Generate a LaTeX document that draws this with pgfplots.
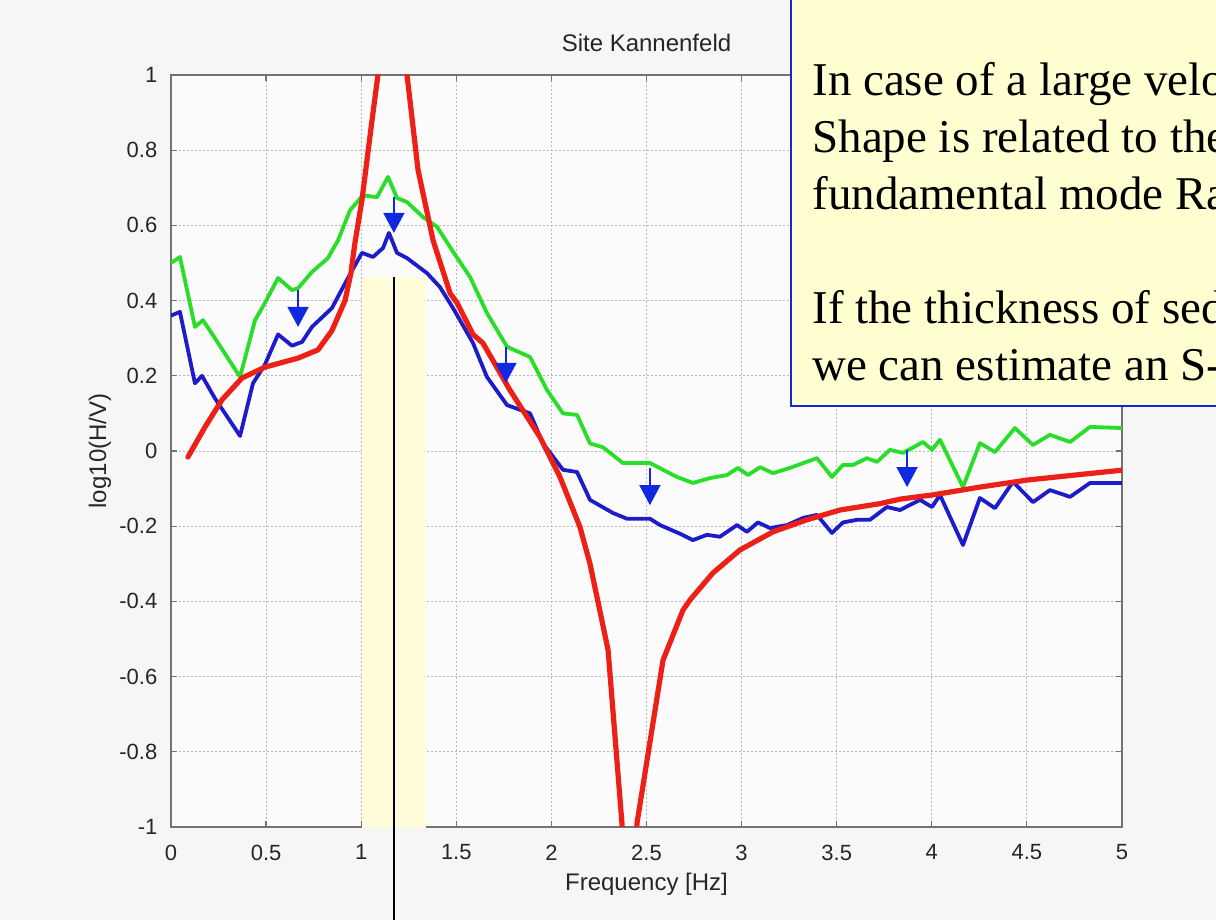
\documentclass[border=0pt]{standalone}
\usepackage{fontspec}
\setmainfont{Liberation Sans}
\newfontfamily\boxserif{Liberation Serif}
\usepackage{pgfplots}
\pgfplotsset{compat=1.18}
\usetikzlibrary{arrows.meta}

\definecolor{cred}{RGB}{236,32,22}
\definecolor{cgreen}{RGB}{40,222,40}
\definecolor{cblue}{RGB}{28,28,200}
\definecolor{arrowblue}{RGB}{15,40,225}
\definecolor{bandyellow}{RGB}{255,253,218}
\definecolor{boxyellow}{RGB}{255,255,210}
\definecolor{boxblue}{RGB}{20,40,215}
\definecolor{bggray}{RGB}{246,246,246}
\definecolor{plotbg}{RGB}{251,251,251}

\begin{document}
\begin{tikzpicture}
\useasboundingbox (-85.5pt,-46.5pt) rectangle (522.5pt,413.5pt);
\fill[bggray] (-85.5pt,-46.5pt) rectangle (522.5pt,413.5pt);
\clip (-85.5pt,-46.5pt) rectangle (522.5pt,413.5pt);
\begin{axis}[
  scale only axis,
  width=475.5pt, height=376pt,
  xmin=0, xmax=5, ymin=-1, ymax=1,
  xtick={0,0.5,1,1.5,2,2.5,3,3.5,4,4.5,5},
  ytick={-1,-0.8,-0.6,-0.4,-0.2,0,0.2,0.4,0.6,0.8,1},
  yticklabels={-1,-0.8,-0.6,-0.4,-0.2,0,0.2,0.4,0.6,0.8,1},
  xticklabels={0,0.5,1,1.5,2,2.5,3,3.5,4,4.5,5},
  /pgf/number format/assume math mode=true,
  tick align=inside,
  major tick length=3pt,
  axis background/.style={fill=plotbg},
  axis line style={draw=black!55, line width=0.6pt},
  every tick/.style={draw=black!55, line width=0.6pt},
  grid=major,
  major grid style={draw=black!28, dash pattern=on 0.8pt off 1.2pt, line width=0.4pt},
  ticklabel style={font=\fontsize{11}{13}\selectfont, text=black!85},
  xticklabel style={yshift=-5.3pt},
  yticklabel style={xshift=-3.3pt},
  title={Site Kannenfeld},
  title style={at={(axis description cs:0.5,1)}, anchor=center, yshift=10pt, font=\fontsize{12}{14}\selectfont, text=black!85},
  xlabel={Frequency [Hz]},
  xlabel style={at={(axis description cs:0.5,0)}, anchor=center, yshift=-28.5pt, font=\fontsize{12}{14}\selectfont, text=black!85},
  ylabel={log10(H/V)},
  ylabel style={at={([xshift=-35.5pt]axis description cs:0,0.5)}, anchor=center, font=\fontsize{12}{14}\selectfont, text=black!85},
  no markers,
  every axis plot/.append style={line join=round, line cap=round},
]
% green
\addplot[cgreen, line width=1.9pt] coordinates {
(0,0.50) (0.047,0.516) (0.126,0.33) (0.168,0.348) (0.231,0.30) (0.363,0.197)
(0.442,0.348) (0.494,0.394) (0.563,0.46) (0.636,0.428) (0.668,0.433) (0.741,0.476)
(0.825,0.513) (0.878,0.56) (0.941,0.64) (1.009,0.68) (1.083,0.675) (1.141,0.729)
(1.188,0.673) (1.241,0.662) (1.325,0.622) (1.399,0.596) (1.483,0.53) (1.572,0.463)
(1.661,0.367) (1.767,0.277) (1.888,0.25) (1.977,0.162) (2.061,0.10) (2.135,0.096)
(2.203,0.02) (2.271,0.01) (2.376,-0.032) (2.518,-0.032) (2.660,-0.069) (2.744,-0.085)
(2.834,-0.072) (2.923,-0.064) (2.981,-0.045) (3.034,-0.064) (3.097,-0.043) (3.165,-0.059)
(3.254,-0.045) (3.396,-0.019) (3.475,-0.069) (3.533,-0.037) (3.586,-0.037) (3.659,-0.019)
(3.712,-0.029) (3.780,0.003) (3.849,-0.005) (3.954,0.024) (4.001,0.003) (4.043,0.03)
(4.164,-0.096) (4.253,0.021) (4.332,-0.003) (4.437,0.061) (4.532,0.016) (4.621,0.043)
(4.727,0.024) (4.832,0.064) (5.0,0.061)
};
% blue
\addplot[cblue, line width=1.9pt] coordinates {
(0,0.36) (0.047,0.37) (0.126,0.18) (0.163,0.20) (0.231,0.14) (0.363,0.04)
(0.431,0.18) (0.494,0.23) (0.563,0.31) (0.636,0.28) (0.689,0.29) (0.741,0.33)
(0.846,0.38) (0.925,0.455) (1.004,0.527) (1.062,0.516) (1.115,0.54) (1.146,0.58)
(1.188,0.527) (1.241,0.513) (1.346,0.473) (1.414,0.436) (1.483,0.38) (1.588,0.287)
(1.661,0.197) (1.767,0.122) (1.888,0.10) (1.956,0.02) (2.061,-0.05) (2.135,-0.056)
(2.203,-0.13) (2.324,-0.165) (2.397,-0.18) (2.518,-0.18) (2.571,-0.197) (2.676,-0.22)
(2.744,-0.237) (2.818,-0.223) (2.886,-0.228) (2.976,-0.197) (3.028,-0.215) (3.086,-0.19)
(3.149,-0.205) (3.239,-0.197) (3.323,-0.178) (3.396,-0.17) (3.475,-0.218) (3.533,-0.19)
(3.607,-0.183) (3.675,-0.183) (3.764,-0.149) (3.833,-0.157) (3.938,-0.13) (4.001,-0.149)
(4.043,-0.117) (4.164,-0.25) (4.253,-0.125) (4.332,-0.152) (4.427,-0.082) (4.532,-0.136)
(4.621,-0.104) (4.727,-0.122) (4.832,-0.085) (5.0,-0.085)
};
% red
\addplot[cred, line width=2.6pt] coordinates {
(0.089,-0.016) (0.179,0.064) (0.268,0.136) (0.373,0.194) (0.494,0.223) (0.668,0.247)
(0.773,0.269) (0.846,0.32) (0.915,0.40) (0.946,0.473) (0.967,0.553) (1.004,0.667)
(1.052,0.86) (1.088,1.0) (1.165,1.8) (1.241,1.0) (1.299,0.747) (1.378,0.56)
(1.467,0.42) (1.504,0.394) (1.588,0.31) (1.640,0.287) (1.782,0.162) (1.940,0.037)
(2.045,-0.069) (2.150,-0.202) (2.203,-0.30) (2.298,-0.529) (2.371,-0.99) (2.41,-1.4)
(2.450,-0.99) (2.587,-0.556) (2.692,-0.423) (2.729,-0.396) (2.818,-0.343) (2.850,-0.324)
(2.992,-0.263) (3.165,-0.215) (3.344,-0.183) (3.517,-0.157) (3.728,-0.140) (3.833,-0.128)
(4.001,-0.117) (4.253,-0.096) (4.506,-0.077) (5.0,-0.051)
};
% arrows
\draw[arrowblue, line width=0.75pt, -{Triangle[width=10.5pt,length=10pt]}] (axis cs:0.668,0.428) -- (axis cs:0.668,0.33);
\draw[arrowblue, line width=0.75pt, -{Triangle[width=10.5pt,length=10pt]}] (axis cs:1.172,0.676) -- (axis cs:1.172,0.58);
\draw[arrowblue, line width=0.75pt, -{Triangle[width=10.5pt,length=10pt]}] (axis cs:1.761,0.277) -- (axis cs:1.761,0.181);
\draw[arrowblue, line width=0.75pt, -{Triangle[width=10.5pt,length=10pt]}] (axis cs:2.518,-0.045) -- (axis cs:2.518,-0.144);
\draw[arrowblue, line width=0.75pt, -{Triangle[width=10.5pt,length=10pt]}] (axis cs:3.870,0.003) -- (axis cs:3.870,-0.096);
\coordinate (bandSW) at (axis cs:1.004,-1);
\coordinate (bandNE) at (axis cs:1.341,0.463);
\coordinate (lineTop) at (axis cs:1.172,0.463);
\end{axis}
% highlighted band and marker line
\fill[bandyellow] ([yshift=-0.6pt]bandSW) rectangle (bandNE);
\draw[black, line width=1pt] (lineTop) -- ++(0,-400pt);
% text box (cut off by the picture edge, as in the original slide)
\draw[fill=boxyellow, draw=boxblue, line width=1.1pt] (310pt,210.5pt) rectangle (540pt,430pt);
\begin{scope}[every node/.style={anchor=base west, inner sep=0pt, font=\boxserif\fontsize{23.5}{28.5}\selectfont}]
\node at (320.5pt,365.5pt) {In case of a large velocity contrast:};
\node at (320.5pt,337pt) {Shape is related to the ellipticity of the};
\node at (320.5pt,308.5pt) {fundamental mode Rayleigh waves};
\node at (320.5pt,251.5pt) {If the thickness of sediments is known,};
\node at (320.5pt,223pt) {we can estimate an S-wave velocity};
\end{scope}
\end{tikzpicture}
\end{document}
